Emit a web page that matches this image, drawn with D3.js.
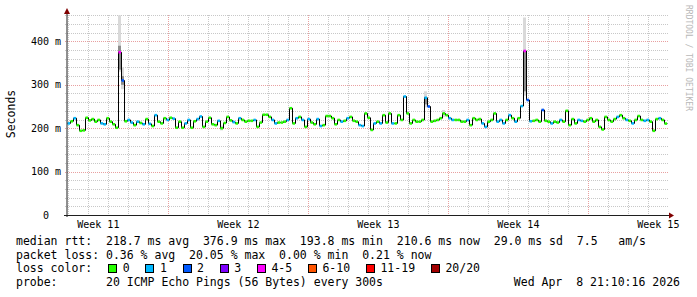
<!DOCTYPE html>
<html>
<head>
<meta charset="utf-8">
<script src="https://cdn.jsdelivr.net/npm/d3@7"></script>
<style>
    body { margin: 0; background: #fff; }
    text { font-family: "DejaVu Sans Mono", monospace; fill: #000; white-space: pre; }
</style>
</head>
<body>
<div id="chart"></div>
<script>
// median rtt (ms), one value per consolidated step
const medianMs = [
    211, 216, 223, 207, 194, 195, 224, 218, 221, 215,
    219, 211, 209, 223, 215, 209, 201, 375, 310, 216,
    219, 213, 207, 215, 212, 209, 221, 210, 205, 230,
    215, 211, 223, 219, 224, 222, 201, 215, 201, 211,
    219, 201, 216, 221, 227, 203, 215, 224, 209, 207,
    217, 200, 212, 226, 218, 214, 211, 223, 219, 215,
    217, 217, 219, 203, 213, 231, 231, 226, 219, 211,
    213, 213, 215, 219, 246, 211, 223, 226, 219, 203,
    221, 213, 209, 221, 205, 207, 228, 228, 223, 209,
    219, 215, 217, 223, 226, 217, 215, 207, 205, 234,
    224, 196, 211, 215, 211, 230, 213, 234, 211, 211,
    230, 219, 273, 234, 211, 219, 215, 215, 219, 270,
    250, 215, 217, 219, 223, 234, 230, 223, 219, 219,
    219, 215, 215, 219, 207, 223, 219, 221, 211, 203,
    215, 219, 234, 215, 219, 211, 219, 230, 223, 215,
    223, 251, 378, 265, 216, 217, 219, 215, 242, 217,
    215, 211, 215, 213, 219, 215, 240, 207, 221, 211,
    219, 217, 215, 219, 223, 215, 219, 203, 197, 226,
    219, 215, 221, 226, 230, 223, 219, 217, 211, 219,
    228, 219, 217, 219, 215, 194, 221, 223, 219, 210.6
]

// lost pings out of 20 for each step
const lostPings = [
    1, 0, 1, 0, 0, 0, 0, 0, 0, 0,
    0, 1, 1, 0, 0, 0, 0, 4, 2, 0,
    1, 1, 0, 1, 0, 1, 0, 1, 0, 1,
    0, 0, 0, 1, 0, 1, 0, 0, 0, 1,
    1, 0, 0, 1, 1, 0, 0, 0, 0, 0,
    1, 0, 0, 0, 0, 1, 0, 1, 0, 0,
    0, 0, 1, 0, 0, 0, 0, 0, 1, 1,
    0, 0, 0, 1, 0, 0, 1, 0, 1, 0,
    1, 0, 0, 1, 1, 0, 0, 0, 0, 0,
    0, 1, 0, 1, 0, 0, 0, 1, 1, 0,
    0, 0, 1, 0, 1, 0, 0, 0, 1, 0,
    0, 0, 1, 0, 0, 0, 0, 0, 0, 1,
    2, 0, 0, 0, 0, 0, 0, 1, 1, 0,
    0, 0, 0, 1, 0, 0, 0, 0, 1, 1,
    0, 0, 0, 1, 1, 1, 0, 1, 0, 1,
    0, 1, 5, 2, 1, 0, 0, 0, 2, 0,
    0, 1, 0, 0, 1, 0, 0, 0, 0, 0,
    1, 1, 0, 0, 0, 0, 0, 0, 0, 0,
    0, 0, 0, 1, 0, 0, 1, 0, 1, 0,
    0, 0, 1, 1, 0, 0, 0, 1, 0, 0
]

// smoke (spread of the single pings) where it shows: [step, low ms, high ms]
const smokeOuter = [[17, 330, 460], [18, 290, 340], [51, 195, 206], [119, 248, 285], [125, 226, 242], [152, 275, 455]]
const smokeInner = [[17, 335, 390], [18, 300, 320], [119, 255, 272], [152, 285, 378]]

const lossLabels = ["0", "1", "2", "3", "4-5", "6-10", "11-19", "20/20"]
const lossUpTo = [0, 1, 2, 3, 5, 10, 19, 20]
const lossColors = ["#26ff00", "#00b8ff", "#0059ff", "#7e00ff", "#ff00ff", "#ff5500", "#ff0000", "#a10000"]

const yMajor = [0, 100, 200, 300, 400]
const legendLines = [
    "median rtt:  218.7 ms avg  376.9 ms max  193.8 ms min  210.6 ms now  29.0 ms sd  7.5   am/s",
    "packet loss: 0.36 % avg  20.05 % max  0.00 % min  0.21 % now"
]
const probeLine = "probe:       20 ICMP Echo Pings (56 Bytes) every 300s"
const stampLine = "Wed Apr  8 21:10:16 2026"

const tStart = new Date(Date.UTC(2026, 2, 9, 23, 0)),
    tEnd = new Date(Date.UTC(2026, 3, 8, 23, 0));

const W = 697, H = 297
const plotLeft = 67, plotRight = 667, plotTop = 15, plotBottom = 215

const svg = d3.select("#chart")
    .append("svg")
    .attr("width", W)
    .attr("height", H)
    .style("display", "block")

svg.append("rect").attr("width", W).attr("height", H).attr("fill", "#fff")

const x = d3.scaleUtc().domain([tStart, tEnd]).range([plotLeft, plotRight])
const y = d3.scaleLinear().domain([0, 460.8]).range([plotBottom, plotTop])

const stepMs = (tEnd - tStart) / medianMs.length
const stepTime = i => new Date(+tStart + i * stepMs)
const crisp = v => Math.round(v) + 0.5

// grid
const minorY = d3.range(20, 461, 20).filter(d => d % 100 !== 0)
const days = d3.utcDay.range(tStart, tEnd)
const sundays = d3.utcSunday.range(tStart, tEnd)

const grid = svg.append("g").attr("class", "grid").attr("stroke-dasharray", "1,1").attr("fill", "none")

grid.selectAll(".minor-y")
    .data(minorY)
    .enter().append("line")
    .attr("x1", plotLeft - 2).attr("x2", plotRight + 2)
    .attr("y1", d => crisp(y(d))).attr("y2", d => crisp(y(d)))
    .attr("stroke", "#c8c8c8")

grid.selectAll(".minor-x")
    .data(days)
    .enter().append("line")
    .attr("x1", d => crisp(x(d))).attr("x2", d => crisp(x(d)))
    .attr("y1", plotTop).attr("y2", plotBottom + 2)
    .attr("stroke", "#c8c8c8")

grid.selectAll(".major-y")
    .data(yMajor.filter(d => d > 0))
    .enter().append("line")
    .attr("x1", plotLeft - 2).attr("x2", plotRight + 2)
    .attr("y1", d => crisp(y(d))).attr("y2", d => crisp(y(d)))
    .attr("stroke", "#e8a0a0")

grid.selectAll(".major-x")
    .data(sundays)
    .enter().append("line")
    .attr("x1", d => crisp(x(d))).attr("x2", d => crisp(x(d)))
    .attr("y1", plotTop).attr("y2", plotBottom + 2)
    .attr("stroke", "#e8a0a0")

// smoke
const smoke = (rows, color) => svg.append("g")
    .selectAll("rect")
    .data(rows)
    .enter().append("rect")
    .attr("x", d => x(stepTime(d[0])))
    .attr("width", d => x(stepTime(d[0] + 1)) - x(stepTime(d[0])))
    .attr("y", d => y(d[2]))
    .attr("height", d => y(d[1]) - y(d[2]))
    .attr("fill", color)

smoke(smokeOuter, "#d9d9d9")
smoke(smokeInner, "#8c8c8c")

// median as a black staircase
const points = medianMs.map((v, i) => [stepTime(i), v])
points.push([tEnd, medianMs[medianMs.length - 1]])

const medianLine = d3.line()
    .x(d => x(d[0]))
    .y(d => y(d[1]))
    .curve(d3.curveStepAfter)

svg.append("path")
    .datum(points)
    .attr("transform", "translate(0.5,0)")
    .attr("fill", "none")
    .attr("stroke", "#000")
    .attr("stroke-width", 1)
    .attr("d", medianLine)

// loss colour on every step
const lossIndex = n => lossUpTo.findIndex(m => n <= m)

svg.append("g")
    .selectAll("line")
    .data(medianMs)
    .enter().append("line")
    .attr("x1", (d, i) => x(stepTime(i)) + 0.5)
    .attr("x2", (d, i) => x(stepTime(i + 1)))
    .attr("y1", d => y(d))
    .attr("y2", d => y(d))
    .attr("stroke", (d, i) => lossColors[lossIndex(lostPings[i])])
    .attr("stroke-width", 2.6)

// axes
svg.append("line")
    .attr("x1", plotLeft).attr("x2", plotLeft)
    .attr("y1", plotBottom + 2).attr("y2", 11)
    .attr("stroke", "#1f1f1f")
svg.append("line")
    .attr("x1", plotLeft - 3).attr("x2", plotRight + 5)
    .attr("y1", plotBottom + 0.5).attr("y2", plotBottom + 0.5)
    .attr("stroke", "#1f1f1f")
svg.append("path")
    .attr("d", `M${plotLeft},8L${plotLeft - 3},14L${plotLeft + 3},14Z`)
    .attr("fill", "#800000")
svg.append("path")
    .attr("d", `M${plotRight + 7},${plotBottom + 0.5}L${plotRight + 2},${plotBottom - 2.5}L${plotRight + 2},${plotBottom + 3.5}Z`)
    .attr("fill", "#800000")

const yAxis = d3.axisLeft(y)
    .tickValues(yMajor)
    .tickSize(0)
    .tickPadding(0)
    .tickFormat(d => d === 0 ? "0  " : d + " m")

svg.append("g")
    .attr("class", "axis y-axis")
    .attr("transform", "translate(61,0)")
    .call(yAxis)
    .call(g => g.select(".domain").remove())
    .call(g => g.selectAll("text")
        .attr("font-family", "DejaVu Sans Mono")
        .attr("font-size", 10)
        .attr("fill", "#000"))

const weekLabels = d3.utcWednesday.range(tStart, tEnd).map(d => d3.utcHour.offset(d, 12))
const xAxis = d3.axisBottom(x)
    .tickValues(weekLabels)
    .tickSize(0)
    .tickPadding(0)
    .tickFormat(d => "Week " + d3.utcFormat("%V")(d))

svg.append("g")
    .attr("class", "axis x-axis")
    .attr("transform", "translate(0,221)")
    .call(xAxis)
    .call(g => g.select(".domain").remove())
    .call(g => g.selectAll("text")
        .attr("font-family", "DejaVu Sans Mono")
        .attr("font-size", 10)
        .attr("fill", "#000"))

// titles
svg.append("text")
    .attr("transform", "translate(15,114) rotate(-90)")
    .attr("text-anchor", "middle")
    .attr("font-size", 11.5)
    .text("Seconds")

svg.append("text")
    .attr("transform", "translate(685.5,5) rotate(90)")
    .attr("font-size", 8)
    .style("fill", "#b8b8b8")
    .text("RRDTOOL / TOBI OETIKER")

// legend
const rowY = [245, 258.7, 272.4, 286.1]

svg.selectAll(".legend-line")
    .data(legendLines)
    .enter().append("text")
    .attr("x", 16)
    .attr("y", (d, i) => rowY[i])
    .attr("font-size", 11.5)
    .text(d => d)

svg.append("text")
    .attr("x", 16).attr("y", rowY[2])
    .attr("font-size", 11.5)
    .text("loss color:")

let boxX = 108.3
const boxes = lossLabels.map(label => {
    const b = { label: label, x: boxX }
    boxX += 30.2 + label.length * 6.95
    return b
})

const entry = svg.selectAll(".loss-entry")
    .data(boxes)
    .enter().append("g")

entry.append("rect")
    .attr("x", d => Math.round(d.x) + 0.5)
    .attr("y", 264.5)
    .attr("width", 8)
    .attr("height", 8)
    .attr("fill", (d, i) => lossColors[i])
    .attr("stroke", "#000")

entry.append("text")
    .attr("x", d => d.x + 14.5)
    .attr("y", rowY[2])
    .attr("font-size", 11.5)
    .text(d => d.label)

svg.append("text")
    .attr("x", 16).attr("y", rowY[3])
    .attr("font-size", 11.5)
    .text(probeLine)

svg.append("text")
    .attr("x", 680).attr("y", rowY[3])
    .attr("text-anchor", "end")
    .attr("font-size", 11.5)
    .text(stampLine)
</script>
</body>
</html>
